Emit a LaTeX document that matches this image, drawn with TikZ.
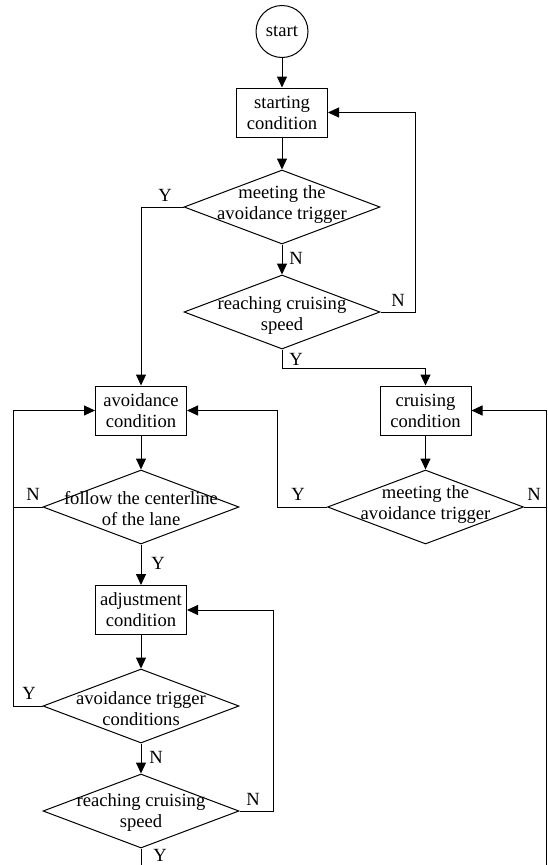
\documentclass[tikz,border=0pt]{standalone}
\usepackage{fontspec}
\setmainfont{Liberation Serif}
\usetikzlibrary{shapes.geometric,arrows.meta}
\begin{document}
\begin{tikzpicture}[x=1pt,y=-1pt,line width=1pt,
  font=\fontsize{18.6}{21}\selectfont,
  box/.style={draw,minimum width=91pt,minimum height=49pt,inner sep=0pt,align=center},
  dia/.style={draw,diamond,minimum width=196pt,minimum height=74pt,inner sep=0pt},
  txt/.style={align=center,inner sep=0pt},
  lbl/.style={inner sep=0pt},
  arr/.style={-{Triangle[length=11pt,width=10pt]}}]
  \useasboundingbox (0,0) rectangle (547,865);
  \def\xM{282}
  \def\xL{141}
  \def\xR{425.5}
  \node[draw,circle,minimum size=52pt,inner sep=0pt] (start) at (\xM,31.5) {start};
  \node[box] (s1) at (\xM,112.5) {starting\\condition};
  \node[dia] (d1) at (\xM,207) {};
  \node[txt] (t1) at (\xM,205) {meeting the\\avoidance trigger};
  \node[dia] (d2) at (\xM,312) {};
  \node[txt] (t2) at (\xM,316) {reaching cruising\\speed};
  \node[box] (avoid) at (\xL,410.5) {avoidance\\condition};
  \node[box] (cruise) at (\xR,410.5) {cruising\\condition};
  \node[dia] (d3) at (\xR,507) {};
  \node[txt] (t3) at (\xR,505) {meeting the\\avoidance trigger};
  \node[dia] (d4) at (\xL,507) {};
  \node[txt] (t4) at (\xL,509) {follow the centerline\\of the lane};
  \node[box] (adj) at (\xL,610) {adjustment\\condition};
  \node[dia] (d5) at (\xL,706) {};
  \node[txt] (t5) at (\xL,709) {avoidance trigger\\conditions};
  \node[dia] (d6) at (\xL,811) {};
  \node[txt] (t6) at (\xL,813) {reaching cruising\\speed};
  \coordinate (endL) at (\xL,865);
  \coordinate (endR) at (546,865);

  \draw[arr] (start) -- (s1);
  \draw[arr] (s1) -- (d1);
  \draw[arr] (d1.west) -| (avoid);
  \draw[arr] (d1) -- (d2);
  \draw[arr] (d2.east) -- ++(35,0) |- (s1);
  \draw[arr] (d2.south) -- ++(0,19) -| (cruise);
  \draw[arr] (avoid) -- (d4);
  \draw[arr] (cruise) -- (d3);
  \draw[arr] (d3.west) -- ++(-50,0) |- (avoid);
  \draw[arr] (endR) |- (cruise);
  \draw (d3.east) -- (d3.east -| endR);
  \draw[arr] (d5.west) -- ++(-29,0) |- (avoid);
  \draw (d4.west) -- ++(-29,0);
  \draw[arr] (d4) -- (adj);
  \draw[arr] (adj) -- (d5);
  \draw[arr] (d5) -- (d6);
  \draw[arr] (d6.east) -- ++(34,0) |- (adj);
  \draw (d6.south) -- (endL);

  \node[lbl] (y1) at (165,195) {Y};
  \node[lbl] (n1) at (296,258) {N};
  \node[lbl] (n2) at (398,300) {N};
  \node[lbl] (y2) at (296,359) {Y};
  \node[lbl] (n3) at (33,494) {N};
  \node[lbl] (y3) at (298,494) {Y};
  \node[lbl] (n4) at (534,494) {N};
  \node[lbl] (y4) at (158,563) {Y};
  \node[lbl] (y5) at (29,693) {Y};
  \node[lbl] (n5) at (156,757) {N};
  \node[lbl] (n6) at (253,799) {N};
  \node[lbl] (y6) at (160,855) {Y};
\end{tikzpicture}
\end{document}
